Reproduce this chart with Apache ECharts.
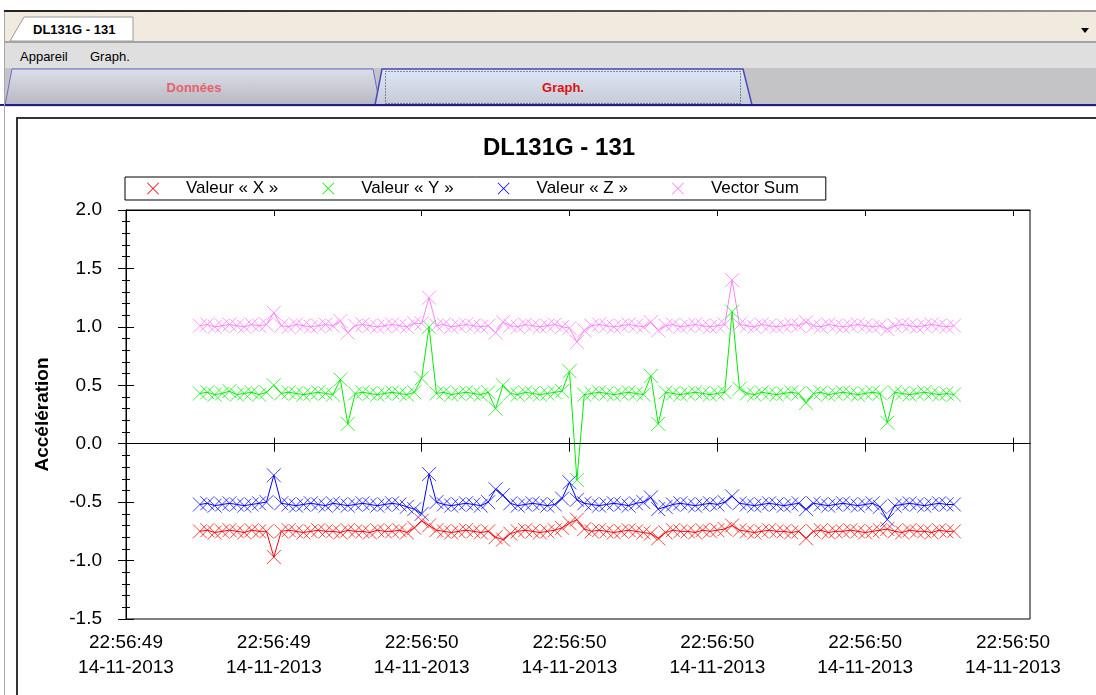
<!DOCTYPE html>
<html>
<head>
<meta charset="utf-8">
<script src="https://cdn.jsdelivr.net/npm/echarts@6/dist/echarts.min.js"></script>
<style>
  html,body{margin:0;padding:0;width:1096px;height:695px;overflow:hidden;background:#fff;font-family:"Liberation Sans",Arial,sans-serif;}
  .abs{position:absolute;}
  #chart{position:absolute;left:0;top:0;width:1096px;height:695px;z-index:5;}
</style>
</head>
<body>
<!-- window chrome -->
<div class="abs" style="left:4px;top:10px;width:1092px;height:2px;background:linear-gradient(to right,#222,#555 60%,#999);"></div>
<div class="abs" style="left:4px;top:12px;width:1092px;height:29px;background:#F1EBDF;"></div>
<svg class="abs" style="left:0;top:0;" width="1096" height="695">
  <polygon points="10,41 24,17 133,17 133,41" fill="#fff" stroke="#9a9a9a" stroke-width="1"/>
  <text x="33" y="34" font-family="Liberation Sans, Arial" font-weight="bold" font-size="13" fill="#000">DL131G - 131</text>
  <polygon points="1081,28 1089,28 1085,33" fill="#000"/>
  <rect x="4" y="41" width="1092" height="2" fill="#A4A4A4"/>
  <rect x="4" y="43" width="1092" height="25" fill="#DFDFDF"/>
  <text x="20" y="61" font-family="Liberation Sans, Arial" font-size="13" fill="#000">Appareil</text>
  <text x="90" y="61" font-family="Liberation Sans, Arial" font-size="13" fill="#000">Graph.</text>
  <rect x="4" y="68" width="1092" height="38" fill="#C4C3C6"/>
  <defs>
    <linearGradient id="g1" x1="0" y1="0" x2="0" y2="1">
      <stop offset="0" stop-color="#DCDFEA"/><stop offset="1" stop-color="#B7B7C0"/>
    </linearGradient>
    <linearGradient id="g2" x1="0" y1="0" x2="0" y2="1">
      <stop offset="0" stop-color="#DDE7F6"/><stop offset="1" stop-color="#C6CAD6"/>
    </linearGradient>
  </defs>
  <polygon points="5,105 12,69 373,69 380,105" fill="url(#g1)" stroke="#6B6BC8" stroke-width="1"/>
  <text x="194" y="92" text-anchor="middle" font-family="Liberation Sans, Arial" font-weight="bold" font-size="13" fill="#E8606A">Données</text>
  <polygon points="375,105 382,69 743,69 752,105" fill="url(#g2)" stroke="#4A4AB8" stroke-width="1.5"/>
  <rect x="385.5" y="71.5" width="355" height="32" fill="none" stroke="#333" stroke-width="1" stroke-dasharray="1,2"/>
  <text x="563" y="92" text-anchor="middle" font-family="Liberation Sans, Arial" font-weight="bold" font-size="13" fill="#E01010">Graph.</text>
  <rect x="0" y="104" width="1096" height="2" fill="#1E1E8C"/>
  <rect x="4" y="106" width="1092" height="1" fill="#DADADA"/>
  <rect x="4" y="12" width="1" height="683" fill="#A8A8A8"/>
  <rect x="16" y="117" width="1080" height="2" fill="#333"/>
  <rect x="16" y="117" width="2" height="578" fill="#333"/>
</svg>
<div id="chart"></div>
<script>
// ---- data ----
const seriesNames = ['Valeur « X »', 'Valeur « Y »', 'Valeur « Z »', 'Vector Sum'];
const seriesColors = ['#ff0000', '#00ee00', '#0000ff', '#ff80ff'];
const markerColors = ['rgba(255,0,0,0.75)', 'rgba(0,238,0,0.75)', 'rgba(0,0,255,0.75)', 'rgba(255,128,255,0.8)'];
// x tick positions (ms after 22:56:49.600) and their labels
const xTickValues = [0, 200, 400, 600, 800, 1000, 1200];
const xTickLabels = [
  '22:56:49\n14-11-2013', '22:56:49\n14-11-2013', '22:56:50\n14-11-2013',
  '22:56:50\n14-11-2013', '22:56:50\n14-11-2013', '22:56:50\n14-11-2013',
  '22:56:50\n14-11-2013'
];
// sample times (ms after 22:56:49.600)
const sampleTimes = [
  100,110,120,130,140,150,160,170,180,190,
  200,210,220,230,240,250,260,270,280,290,
  300,310,320,330,340,350,360,370,380,390,
  400,410,420,430,440,450,460,470,480,490,
  500,510,520,530,540,550,560,570,580,590,
  600,610,620,630,640,650,660,670,680,690,
  700,710,720,730,740,750,760,770,780,790,
  800,810,820,830,840,850,860,870,880,890,
  900,910,920,930,940,950,960,970,980,990,
  1000,1010,1020,1030,1040,1050,1060,1070,1080,1090,
  1100,1110,1120
];
const valX = [
  -0.75,-0.74,-0.76,-0.75,-0.74,-0.75,-0.76,-0.74,-0.75,-0.75,
  -0.97,
  -0.75,-0.74,-0.75,-0.76,-0.75,-0.74,-0.75,-0.75,-0.76,
  -0.74,-0.75,-0.75,-0.76,-0.74,-0.75,-0.75,-0.74,-0.76,-0.72,
  -0.66,-0.70,
  -0.74,-0.75,-0.76,-0.75,-0.74,-0.75,-0.76,-0.75,
  -0.80,-0.82,
  -0.77,-0.75,-0.74,-0.75,-0.76,-0.75,-0.74,-0.72,
  -0.68,-0.65,
  -0.73,-0.75,-0.74,-0.75,-0.76,-0.75,-0.74,-0.75,-0.76,
  -0.77,-0.81,
  -0.76,-0.74,-0.75,-0.75,-0.76,-0.74,-0.75,-0.74,-0.73,
  -0.70,
  -0.74,-0.75,-0.76,-0.75,-0.74,-0.75,-0.75,-0.76,-0.75,
  -0.81,
  -0.75,-0.74,-0.76,-0.75,-0.75,-0.74,-0.75,-0.76,-0.75,-0.74,
  -0.73,
  -0.75,-0.76,-0.74,-0.75,-0.75,-0.76,-0.74,-0.75,-0.75
];
const valY = [
  0.43,0.44,0.42,0.43,0.45,0.42,0.43,0.44,0.42,0.44,
  0.50,
  0.43,0.44,0.43,0.42,0.43,0.44,0.43,0.42,
  0.55,0.17,
  0.43,0.44,0.43,0.42,0.43,0.44,0.43,0.42,0.44,
  0.56,1.00,
  0.43,0.44,0.42,0.43,0.44,0.43,0.42,0.44,
  0.30,0.50,
  0.43,0.42,0.44,0.43,0.42,0.43,0.44,0.45,
  0.62,-0.31,
  0.42,0.43,0.44,0.43,0.42,0.43,0.44,0.43,0.42,
  0.58,0.17,
  0.44,0.43,0.42,0.43,0.44,0.43,0.42,0.43,0.44,
  1.13,
  0.47,0.43,0.42,0.44,0.43,0.42,0.43,0.44,0.43,
  0.35,
  0.43,0.44,0.42,0.43,0.44,0.43,0.42,0.43,0.44,0.43,
  0.18,
  0.44,0.43,0.42,0.43,0.44,0.43,0.42,0.43,0.42
];
const valZ = [
  -0.52,-0.51,-0.53,-0.52,-0.51,-0.52,-0.53,-0.52,-0.51,-0.50,
  -0.27,
  -0.51,-0.52,-0.53,-0.52,-0.51,-0.52,-0.53,-0.51,-0.52,
  -0.53,-0.52,-0.51,-0.52,-0.53,-0.52,-0.51,-0.52,-0.54,-0.56,
  -0.60,-0.26,
  -0.50,-0.52,-0.53,-0.52,-0.51,-0.52,-0.53,-0.50,
  -0.39,-0.44,
  -0.51,-0.53,-0.52,-0.51,-0.52,-0.53,-0.52,-0.47,
  -0.33,-0.48,
  -0.51,-0.52,-0.53,-0.52,-0.51,-0.52,-0.53,-0.51,-0.50,
  -0.46,-0.56,
  -0.54,-0.52,-0.51,-0.52,-0.53,-0.52,-0.51,-0.52,-0.50,
  -0.45,
  -0.51,-0.52,-0.53,-0.52,-0.51,-0.52,-0.53,-0.52,-0.51,
  -0.56,
  -0.51,-0.52,-0.53,-0.52,-0.51,-0.52,-0.53,-0.52,-0.51,-0.54,
  -0.65,
  -0.53,-0.52,-0.51,-0.52,-0.53,-0.52,-0.51,-0.52,-0.52
];
const valSum = [
  1.01,1.02,1.00,1.01,1.02,1.01,1.00,1.02,1.01,1.02,
  1.12,
  1.01,1.00,1.02,1.01,1.00,1.01,1.02,1.01,
  1.05,0.95,
  1.01,1.02,1.01,1.00,1.01,1.02,1.01,1.00,1.03,
  1.03,1.25,
  1.01,1.02,1.00,1.01,1.02,1.01,1.00,1.01,
  0.95,1.04,
  1.01,1.00,1.02,1.01,1.00,1.01,1.02,1.00,
  0.99,0.87,
  0.97,1.01,1.02,1.01,1.00,1.01,1.02,1.01,1.00,
  1.04,0.97,
  1.01,1.02,1.00,1.01,1.02,1.01,1.00,1.01,1.02,
  1.40,
  1.02,1.01,1.00,1.02,1.01,1.00,1.01,1.02,1.01,
  1.04,
  1.01,1.00,1.02,1.01,1.00,1.01,1.02,1.01,1.00,1.01,
  0.98,
  1.01,1.02,1.01,1.00,1.01,1.02,1.01,1.00,1.01
];
const allValues = [valX, valY, valZ, valSum];

// ---- chart ----
const FONT = '"Liberation Sans", Arial, sans-serif';
const CROSS = 'path://M0,0L10,10M10,0L0,10';
// filled cross outline used for the legend icons
const CROSS_FILLED = 'path://M0,1L1,0L10,9L19,0L20,1L11,10L20,19L19,20L10,11L1,20L0,19L9,10Z';
const chart = echarts.init(document.getElementById('chart'), null, {renderer: 'canvas'});

const X_MAX = 1223;
const baseX = {
  type: 'value', min: 0, max: X_MAX, gridIndex: 0,
  splitLine: {show: false},
  axisLine: {show: true, lineStyle: {color: '#000', width: 1}}
};
const baseY = {
  type: 'value', min: -1.5, max: 2.0, interval: 0.5, gridIndex: 0,
  splitLine: {show: false},
  axisLine: {show: true, onZero: false, lineStyle: {color: '#000', width: 1}}
};

const series = allValues.map((vals, k) => ({
  name: seriesNames[k],
  type: 'line',
  color: seriesColors[k],
  xAxisIndex: 0, yAxisIndex: 0,
  data: sampleTimes.map((t, i) => [t, vals[i]]),
  symbol: CROSS,
  symbolSize: 14,
  showSymbol: true,
  showAllSymbol: true,
  lineStyle: {color: seriesColors[k], width: 1},
  itemStyle: {color: markerColors[k], borderColor: markerColors[k], borderWidth: 1},
  emphasis: {disabled: true},
  animation: false,
  z: 3
}));

// zero line as its own series
series.push({
  name: 'zero', type: 'line', data: [], silent: true, animation: false,
  markLine: {
    silent: true, symbol: ['none', 'none'], animation: false,
    label: {show: false},
    lineStyle: {color: '#000', width: 1, type: 'solid'},
    data: [{yAxis: 0}]
  }
});

chart.setOption({
  backgroundColor: 'transparent',
  animation: false,
  title: {
    text: 'DL131G - 131',
    left: 483, top: 136, padding: 0,
    textStyle: {fontFamily: FONT, fontWeight: 'bold', fontSize: 24, color: '#000'}
  },
  legend: {
    left: 125, top: 177,
    padding: [3, 27, 3, 22],
    itemGap: 44, itemWidth: 56, itemHeight: 12,
    selectedMode: false,
    borderColor: '#000', borderWidth: 1,
    backgroundColor: '#fff',
    textStyle: {fontFamily: FONT, fontSize: 17, color: '#000'},
    data: seriesNames.map((n, k) => ({
      name: n,
      icon: CROSS_FILLED,
      itemStyle: {color: seriesColors[k], borderWidth: 0, opacity: 1}
    }))
  },
  grid: {left: 126, right: 66, top: 210, bottom: 76, show: true, borderColor: '#000', borderWidth: 1, backgroundColor: 'transparent', containLabel: false},
  xAxis: [
    Object.assign({}, baseX, {
      position: 'bottom',
      axisTick: {show: true, inside: false, length: 8, lineStyle: {color: '#000'}, customValues: xTickValues},
      axisLabel: {
        show: true, customValues: xTickValues, margin: 11,
        fontFamily: FONT, fontSize: 19, color: '#000', lineHeight: 25,
        formatter: v => { const i = xTickValues.indexOf(v); return i >= 0 ? xTickLabels[i] : ''; }
      }
    }),
    Object.assign({}, baseX, {
      position: 'bottom',
      axisTick: {show: true, inside: true, length: 6, lineStyle: {color: '#000'}, customValues: xTickValues},
      axisLabel: {show: false}
    }),
    Object.assign({}, baseX, {
      position: 'top',
      axisTick: {show: true, inside: true, length: 6, lineStyle: {color: '#000'}, customValues: xTickValues},
      axisLabel: {show: false}
    })
  ],
  yAxis: [
    Object.assign({}, baseY, {
      position: 'left',
      name: 'Accélération', nameLocation: 'middle', nameRotate: 90, nameGap: 74,
      nameTextStyle: {fontFamily: FONT, fontWeight: 'bold', fontSize: 19, color: '#000'},
      axisTick: {show: true, inside: false, length: 8, lineStyle: {color: '#000'}},
      minorTick: {show: true, splitNumber: 5, length: 4, lineStyle: {color: '#000'}},
      axisLabel: {show: true, margin: 24, fontFamily: FONT, fontSize: 19, color: '#000', formatter: v => v.toFixed(1)}
    }),
    Object.assign({}, baseY, {
      position: 'left',
      axisTick: {show: true, inside: true, length: 8, lineStyle: {color: '#000'}},
      minorTick: {show: true, splitNumber: 5, length: 4, lineStyle: {color: '#000'}},
      axisLabel: {show: false}
    })
  ],
  series: series
});
</script>
</body>
</html>
